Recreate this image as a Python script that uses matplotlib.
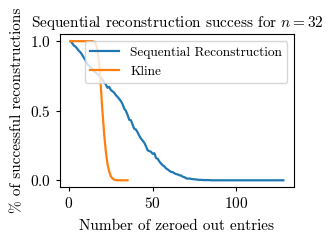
import matplotlib
matplotlib.use("Agg")
import matplotlib.pyplot as plt

plt.rcParams['font.family'] = ['cmr10', 'DejaVu Serif']
plt.rcParams['mathtext.fontset'] = 'cm'
plt.rcParams['axes.unicode_minus'] = False
plt.rcParams['axes.formatter.use_mathtext'] = True

seq_x = list(range(1, 129))
seq_y = [1.000, 0.985, 0.968, 0.960, 0.945, 0.930, 0.918, 0.900, 0.880, 0.860,
         0.835, 0.825, 0.810, 0.800, 0.785, 0.775, 0.765, 0.752, 0.740, 0.725,
         0.705, 0.690, 0.665, 0.672, 0.650, 0.640, 0.630, 0.612, 0.600, 0.585,
         0.570, 0.548, 0.515, 0.500, 0.470, 0.435, 0.432, 0.400, 0.370, 0.365,
         0.345, 0.320, 0.300, 0.285, 0.270, 0.245, 0.215, 0.210, 0.205, 0.190,
         0.195, 0.160, 0.155, 0.135, 0.120, 0.108, 0.100, 0.085, 0.078, 0.068,
         0.060, 0.058, 0.050, 0.045, 0.042, 0.036, 0.034, 0.025, 0.022, 0.014,
         0.012, 0.013, 0.010, 0.008, 0.007, 0.006, 0.004, 0.003, 0.003, 0.002,
         0.001, 0.002, 0.001, 0.001] + [0.0] * 44

kline_x = list(range(1, 36))
kline_y = [1.0] * 13 + [1.0, 0.995, 0.98, 0.94, 0.85, 0.68, 0.50, 0.34, 0.21,
                        0.12, 0.065, 0.03, 0.013, 0.005, 0.001] + [0.0] * 7

fig = plt.figure(figsize=(3.33, 2.41), dpi=100)
ax = fig.add_axes([0.180, 0.223, 0.703, 0.635])
ax.plot(seq_x, seq_y, color='#1f77b4', lw=1.6, label='Sequential Reconstruction')
ax.plot(kline_x, kline_y, color='#ff7f0e', lw=1.6, label='Kline')
ax.set_title('Sequential reconstruction success for $n = 32$', fontsize=11, pad=5)
ax.set_xlabel('Number of zeroed out entries', fontsize=11, labelpad=6)
ax.set_ylabel('% of successful reconstructions', fontsize=11, labelpad=4)
ax.set_xticks([0, 50, 100])
ax.set_yticks([0.0, 0.5, 1.0])
ax.tick_params(labelsize=11, length=3)
ax.legend(loc='upper right', fontsize=9.6, borderaxespad=0.5, handlelength=2.2)
fig.savefig('out.png', dpi=100)
